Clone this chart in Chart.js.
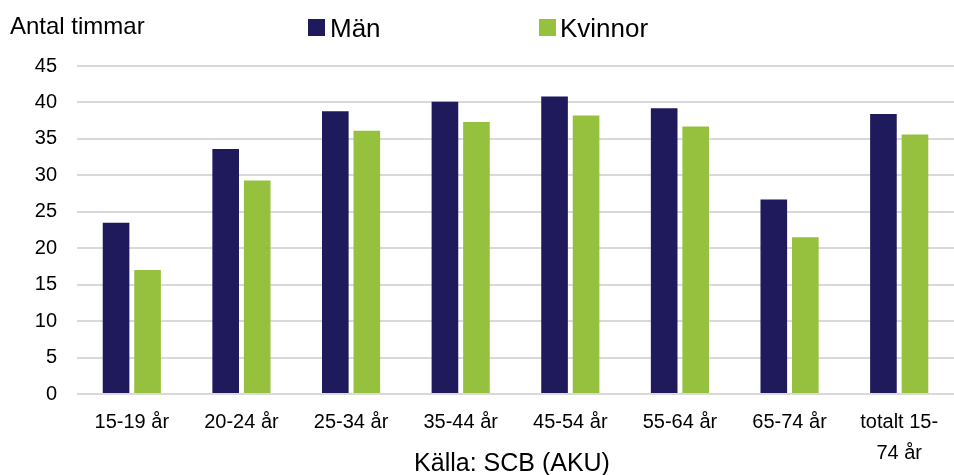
<!DOCTYPE html>
<html>
<head>
<meta charset="utf-8">
<script src="https://cdn.jsdelivr.net/npm/chart.js@4"></script>
<style>
  body { margin: 0; background: #fff; }
  #wrap { width: 954px; height: 475px; }
</style>
</head>
<body>
<div id="wrap"><canvas id="myChart"></canvas></div>
<script>
var categories = ['15-19 år', '20-24 år', '25-34 år', '35-44 år', '45-54 år', '55-64 år', '65-74 år', ['totalt 15-', '74 år']]
var man = [23.5, 33.6, 38.8, 40.1, 40.8, 39.2, 26.7, 38.4]
var kvinnor = [17.0, 29.3, 36.1, 37.3, 38.2, 36.7, 21.5, 35.6]
var yTicks = [0, 5, 10, 15, 20, 25, 30, 35, 40, 45]

var manColor = '#1f1a5c'
var kvinnorColor = '#96c13e'
var fontFamily = 'Arial, "Liberation Sans", sans-serif'

// text above and below the plot, drawn on the canvas
var extraText = {
    id: 'extraText',
    afterDraw: function(chart) {
        var c = chart.ctx
        c.save()
        c.fillStyle = '#000'
        c.textBaseline = 'alphabetic'
        c.textAlign = 'left'
        c.font = '24px ' + fontFamily
        c.fillText('Antal timmar', 10, 34)

        c.font = '26px ' + fontFamily
        c.fillStyle = manColor
        c.fillRect(308, 19, 17, 17)
        c.fillStyle = '#000'
        c.fillText('Män', 330, 36.5)
        c.fillStyle = kvinnorColor
        c.fillRect(539, 19, 17, 17)
        c.fillStyle = '#000'
        c.fillText('Kvinnor', 560, 36.5)

        c.font = '25px ' + fontFamily
        c.textAlign = 'center'
        c.fillText('Källa: SCB (AKU)', 512, 471)
        c.restore()
    }
}

var ctx = document.getElementById('myChart').getContext('2d');

var chart = new Chart(ctx, {
    type: 'bar',
    data: {
        labels: categories,
        datasets: [{
                label: 'Män',
                backgroundColor: manColor,
                data: man
            },
            {
                label: 'Kvinnor',
                backgroundColor: kvinnorColor,
                data: kvinnor
            }
        ]
    },
    options: {
        responsive: true,
        maintainAspectRatio: false,
        animation: false,
        layout: { padding: { top: 66, left: 0, right: -8, bottom: 0 } },
        datasets: { bar: { categoryPercentage: 0.575, barPercentage: 0.845 } },
        plugins: {
            legend: { display: false },
            tooltip: { enabled: false }
        },
        scales: {
            x: {
                grid: { display: false },
                border: { display: false },
                ticks: {
                    color: '#000',
                    padding: 5,
                    maxRotation: 0,
                    autoSkip: false,
                    font: { family: fontFamily, size: 20, lineHeight: 1.55 }
                },
                afterFit: function(s) { s.height = 81 }
            },
            y: {
                min: 0,
                max: 45,
                afterBuildTicks: function(s) { s.ticks = yTicks.map(function(v) { return { value: v } }) },
                grid: { color: '#d9d9d9', lineWidth: 2, drawTicks: false },
                border: { display: false },
                ticks: {
                    color: '#000',
                    padding: 20,
                    font: { family: fontFamily, size: 20 }
                },
                afterFit: function(s) { s.width = 77 }
            }
        }
    },
    plugins: [extraText]
});
</script>
</body>
</html>
